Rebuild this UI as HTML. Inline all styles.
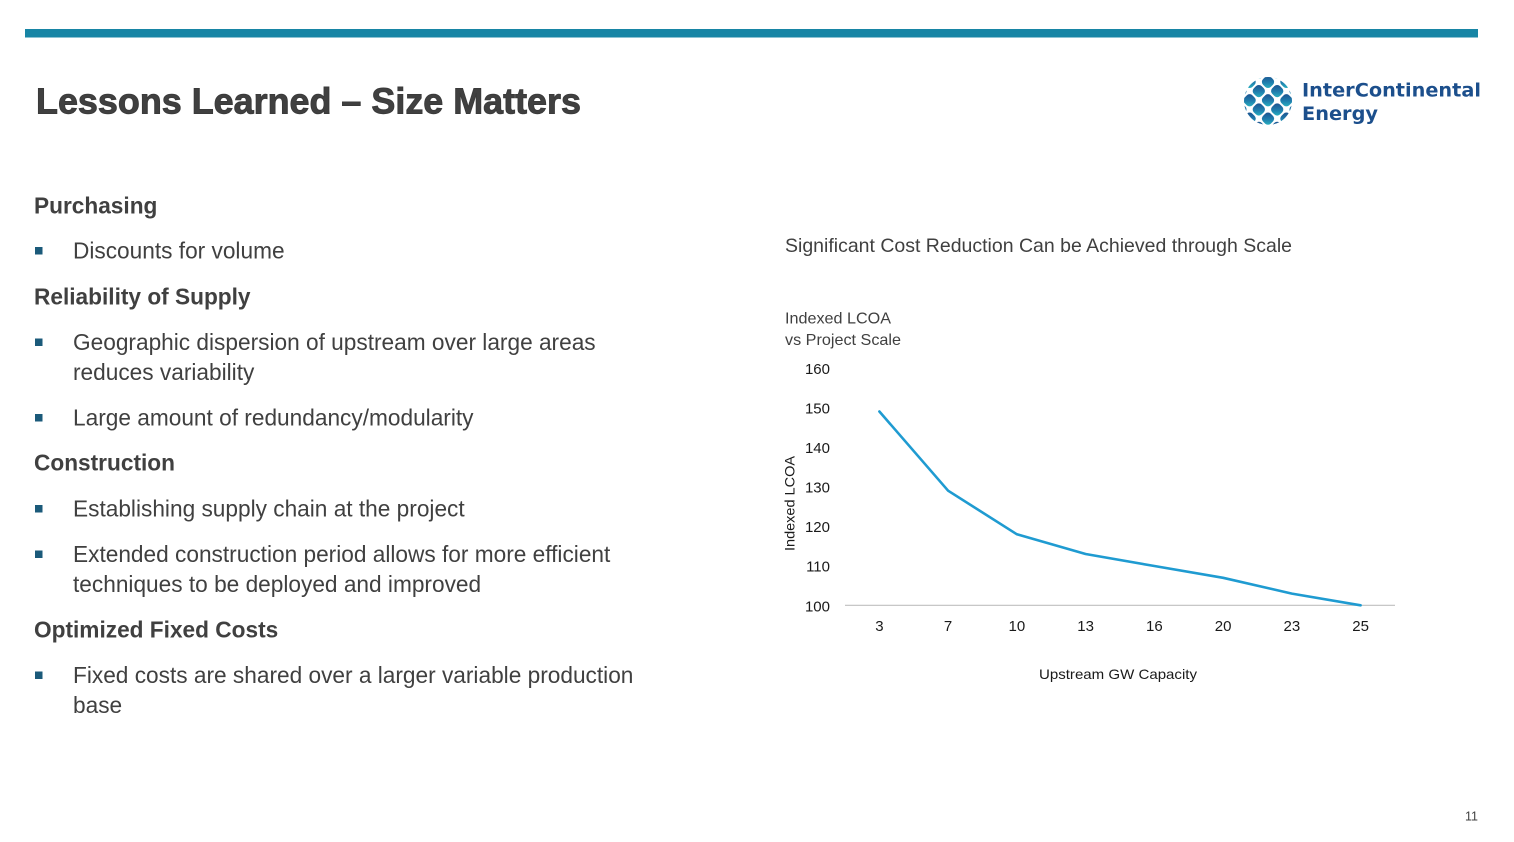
<!DOCTYPE html>
<html>
<head>
<meta charset="utf-8">
<style>
  html,body{margin:0;padding:0;background:#fff;}
  body{width:1514px;height:842px;overflow:hidden;}
  svg{display:block;}
  .b{font-family:"Liberation Sans",Arial,sans-serif;fill:#404040;}
</style>
</head>
<body>
<svg width="1514" height="842" viewBox="0 0 1514 842" xmlns="http://www.w3.org/2000/svg">
  <defs>
    <linearGradient id="lg" x1="0" y1="0" x2="1" y2="1">
      <stop offset="0" stop-color="#1b4a8a"/>
      <stop offset="0.55" stop-color="#1f7fae"/>
      <stop offset="1" stop-color="#2cbcc4"/>
    </linearGradient>
    <clipPath id="cc"><circle cx="1268" cy="101" r="24"/></clipPath>
  </defs>

  <!-- top bar -->
  <rect x="25" y="29" width="1453" height="8.5" fill="#1785a5"/>

  <!-- title -->
  <text x="36" y="113.5" class="b" font-size="36" font-weight="bold" fill="#3a3a3a" stroke="#3a3a3a" stroke-width="0.9" textLength="545" lengthAdjust="spacingAndGlyphs">Lessons Learned – Size Matters</text>

  <!-- logo mark -->
  <g clip-path="url(#cc)">
    <g transform="rotate(45 1268 101)" fill="url(#lg)">
      <rect x="1236" y="69" width="11" height="11" rx="4"/>
      <rect x="1249" y="69" width="11" height="11" rx="4"/>
      <rect x="1262" y="69" width="11" height="11" rx="4"/>
      <rect x="1275" y="69" width="11" height="11" rx="4"/>
      <rect x="1288" y="69" width="11" height="11" rx="4"/>
      <rect x="1236" y="82" width="11" height="11" rx="4"/>
      <rect x="1249" y="82" width="11" height="11" rx="4"/>
      <rect x="1262" y="82" width="11" height="11" rx="4"/>
      <rect x="1275" y="82" width="11" height="11" rx="4"/>
      <rect x="1288" y="82" width="11" height="11" rx="4"/>
      <rect x="1236" y="95" width="11" height="11" rx="4"/>
      <rect x="1249" y="95" width="11" height="11" rx="4"/>
      <rect x="1262" y="95" width="11" height="11" rx="4"/>
      <rect x="1275" y="95" width="11" height="11" rx="4"/>
      <rect x="1288" y="95" width="11" height="11" rx="4"/>
      <rect x="1236" y="108" width="11" height="11" rx="4"/>
      <rect x="1249" y="108" width="11" height="11" rx="4"/>
      <rect x="1262" y="108" width="11" height="11" rx="4"/>
      <rect x="1275" y="108" width="11" height="11" rx="4"/>
      <rect x="1288" y="108" width="11" height="11" rx="4"/>
      <rect x="1236" y="121" width="11" height="11" rx="4"/>
      <rect x="1249" y="121" width="11" height="11" rx="4"/>
      <rect x="1262" y="121" width="11" height="11" rx="4"/>
      <rect x="1275" y="121" width="11" height="11" rx="4"/>
    </g>
  </g>
  <!-- logo text -->
  <text x="1302" y="96.5" font-family="'DejaVu Sans','Liberation Sans',sans-serif" font-weight="bold" font-size="19" fill="#1c4f8c" textLength="179" lengthAdjust="spacingAndGlyphs">InterContinental</text>
  <text x="1302" y="120" font-family="'DejaVu Sans','Liberation Sans',sans-serif" font-weight="bold" font-size="19" fill="#1c4f8c" textLength="76" lengthAdjust="spacingAndGlyphs">Energy</text>

  <!-- left content -->
  <g class="b" font-size="22.67">
    <text x="34" y="213.5" font-weight="bold">Purchasing</text>
    <text x="73" y="258.5">Discounts for volume</text>
    <text x="34" y="304.5" font-weight="bold">Reliability of Supply</text>
    <text x="73" y="350">Geographic dispersion of upstream over large areas</text>
    <text x="73" y="380">reduces variability</text>
    <text x="73" y="425.5">Large amount of redundancy/modularity</text>
    <text x="34" y="470.5" font-weight="bold">Construction</text>
    <text x="73" y="516.5">Establishing supply chain at the project</text>
    <text x="73" y="562">Extended construction period allows for more efficient</text>
    <text x="73" y="592">techniques to be deployed and improved</text>
    <text x="34" y="637.5" font-weight="bold">Optimized Fixed Costs</text>
    <text x="73" y="683">Fixed costs are shared over a larger variable production</text>
    <text x="73" y="713">base</text>
  </g>
  <g fill="#1b5a7a">
    <rect x="35" y="247" width="7.5" height="7.5"/>
    <rect x="35" y="338.5" width="7.5" height="7.5"/>
    <rect x="35" y="414" width="7.5" height="7.5"/>
    <rect x="35" y="505" width="7.5" height="7.5"/>
    <rect x="35" y="550.5" width="7.5" height="7.5"/>
    <rect x="35" y="671.5" width="7.5" height="7.5"/>
  </g>

  <!-- chart texts -->
  <text x="785" y="252" class="b" font-size="19.5" textLength="507" lengthAdjust="spacingAndGlyphs">Significant Cost Reduction Can be Achieved through Scale</text>
  <text x="785" y="323.5" class="b" font-size="16" textLength="106" lengthAdjust="spacingAndGlyphs">Indexed LCOA</text>
  <text x="785" y="345" class="b" font-size="16" textLength="116" lengthAdjust="spacingAndGlyphs">vs Project Scale</text>

  <!-- y ticks -->
  <g font-family="'Liberation Sans',Arial,sans-serif" font-size="15" fill="#1a1a1a" text-anchor="end">
    <text x="830" y="374">160</text>
    <text x="830" y="413.5">150</text>
    <text x="830" y="453">140</text>
    <text x="830" y="492.5">130</text>
    <text x="830" y="532">120</text>
    <text x="830" y="571.5">110</text>
    <text x="830" y="611.3">100</text>
  </g>
  <!-- axis line -->
  <line x1="845" y1="605.3" x2="1395" y2="605.3" stroke="#bfbfbf" stroke-width="1.2"/>
  <!-- x ticks -->
  <g font-family="'Liberation Sans',Arial,sans-serif" font-size="15" fill="#1a1a1a" text-anchor="middle">
    <text x="879.4" y="631">3</text>
    <text x="948.1" y="631">7</text>
    <text x="1016.9" y="631">10</text>
    <text x="1085.6" y="631">13</text>
    <text x="1154.4" y="631">16</text>
    <text x="1223.1" y="631">20</text>
    <text x="1291.9" y="631">23</text>
    <text x="1360.6" y="631">25</text>
  </g>
  <text x="1118" y="679" font-family="'Liberation Sans',Arial,sans-serif" font-size="14" fill="#1a1a1a" text-anchor="middle" textLength="158" lengthAdjust="spacingAndGlyphs">Upstream GW Capacity</text>
  <text transform="translate(794.5 503.5) rotate(-90)" x="0" y="0" font-family="'Liberation Sans',Arial,sans-serif" font-size="14" fill="#1a1a1a" text-anchor="middle" textLength="95" lengthAdjust="spacingAndGlyphs">Indexed LCOA</text>

  <!-- series -->
  <polyline fill="none" stroke="#1f9bd1" stroke-width="2.6" stroke-linejoin="round" stroke-linecap="round"
    points="879.4,411.5 948.1,490.7 1016.9,534.3 1085.6,554 1154.4,566 1223.1,577.8 1291.9,593.6 1360.6,605.3"/>

  <!-- page number -->
  <text x="1478" y="820.7" font-family="'Liberation Sans',Arial,sans-serif" font-size="12.5" fill="#404040" text-anchor="end">11</text>
</svg>
</body>
</html>
